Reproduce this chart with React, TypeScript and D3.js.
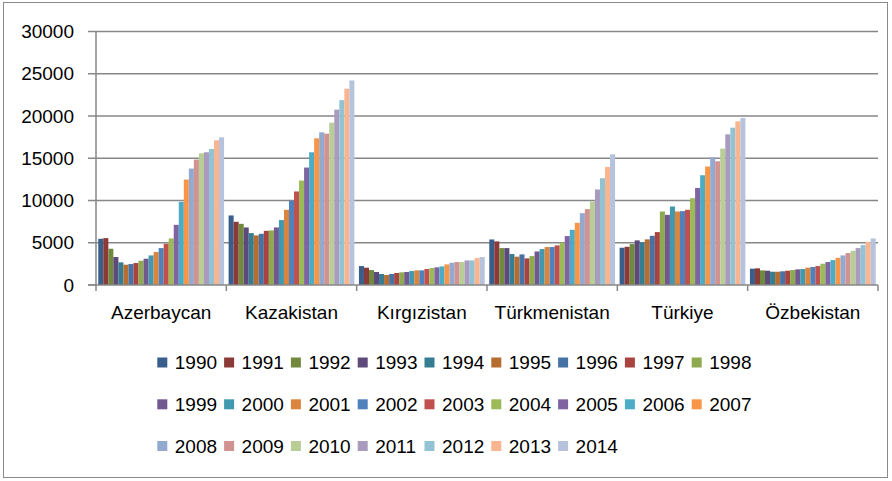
import React, { useRef, useEffect } from "react";
import * as d3 from "d3";

const countries = ["Azerbaycan", "Kazakistan", "Kırgızistan", "Türkmenistan", "Türkiye", "Özbekistan"];
const years = d3.range(1990, 2015).map(String);

// values per country, 1990..2014
const azerbaycan = [5470, 5550, 4290, 3310, 2680, 2400, 2480, 2600, 2870, 3110, 3500, 3900, 4370, 4880, 5510, 7120, 9840, 12480, 13780, 14840, 15590, 15710, 16100, 17120, 17480];
const kazakistan = [8230, 7480, 7240, 6810, 6140, 5870, 6060, 6410, 6460, 6810, 7680, 8900, 9960, 11070, 12360, 13900, 15710, 17360, 18070, 17910, 19210, 20750, 21880, 23230, 24210];
const kirgizistan = [2240, 2050, 1770, 1540, 1300, 1180, 1300, 1420, 1500, 1540, 1650, 1730, 1730, 1890, 2010, 2090, 2200, 2440, 2640, 2720, 2720, 2910, 2910, 3190, 3310];
const turkmenistan = [5390, 5160, 4370, 4370, 3660, 3350, 3620, 3150, 3420, 3970, 4250, 4490, 4490, 4690, 5000, 5790, 6530, 7360, 8500, 8980, 9880, 11300, 12640, 13970, 15470];
const turkiye = [4410, 4520, 4840, 5280, 5040, 5400, 5820, 6260, 8700, 8300, 9290, 8700, 8740, 8900, 10270, 11490, 12990, 14020, 15120, 14640, 16140, 17830, 18620, 19370, 19760];
const ozbekistan = [1930, 1970, 1730, 1690, 1570, 1570, 1620, 1690, 1770, 1850, 1890, 2050, 2130, 2240, 2520, 2720, 2950, 3220, 3500, 3780, 4050, 4370, 4720, 5110, 5510];

const values = [azerbaycan, kazakistan, kirgizistan, turkmenistan, turkiye, ozbekistan];

const yTicks = [0, 5000, 10000, 15000, 20000, 25000, 30000];

const colors = [
    "#3A5E8C", "#8C3A37", "#71893F", "#5E4A7A", "#357D91", "#B66D31",
    "#4672A6", "#A9433F", "#8EAA4E", "#71588F", "#4198AF", "#DB843D",
    "#4F81BD", "#C0504D", "#9BBB59", "#8064A2", "#4BACC6", "#F79646",
    "#93A9CF", "#D19392", "#B9CD96", "#A99BBD", "#92C3D4", "#F9B590",
    "#B7C3DC"
];

const App = () => {
    const ref = useRef<SVGSVGElement>(null);

    useEffect(() => {
        const svg = d3.select(ref.current);
        svg.selectAll("*").remove();

        const width = 892;
        const height = 481;
        const margin = { top: 31.5, right: 14, bottom: 196, left: 96 };
        const font = "'Liberation Sans', Arial, sans-serif";
        const gray = "#878787";

        svg.attr("width", width).attr("height", height).style("background", "#fff");

        // outer frame
        svg.append("rect")
            .attr("x", 3.5).attr("y", 2.5)
            .attr("width", 884).attr("height", 475)
            .attr("fill", "none")
            .attr("stroke", "#8a8a8a")
            .attr("stroke-width", 1);

        const x0 = d3.scaleBand()
            .domain(countries)
            .range([margin.left, width - margin.right])
            .padding(0);

        const x1 = d3.scaleBand()
            .domain(years)
            .range([0, x0.bandwidth()])
            .paddingInner(0)
            .paddingOuter(0.45);

        const y = d3.scaleLinear()
            .domain([0, 30000])
            .range([height - margin.bottom + 0.0, margin.top]);

        const plotRight = width - margin.right;

        // grid lines + y ticks
        const grid = svg.append("g");
        yTicks.forEach(t => {
            grid.append("line")
                .attr("x1", margin.left - 8).attr("x2", t === 0 ? margin.left : plotRight)
                .attr("y1", y(t)).attr("y2", y(t))
                .attr("stroke", gray).attr("stroke-width", 1.3);
            svg.append("text")
                .attr("x", 74).attr("y", y(t))
                .attr("text-anchor", "end")
                .attr("dominant-baseline", "central")
                .style("font-family", font)
                .style("font-size", "19px")
                .attr("fill", "#000")
                .text(t);
        });

        // bars
        countries.forEach((c, ci) => {
            const g = svg.append("g").attr("transform", `translate(${x0(c)},0)`);
            g.selectAll("rect")
                .data(values[ci])
                .enter()
                .append("rect")
                .attr("x", (d, i) => x1(years[i]) as number)
                .attr("width", x1.bandwidth())
                .attr("y", d => y(d))
                .attr("height", d => y(0) - y(d))
                .attr("fill", (d, i) => colors[i]);
        });

        // axes lines
        svg.append("line")
            .attr("x1", margin.left).attr("x2", margin.left)
            .attr("y1", margin.top).attr("y2", y(0))
            .attr("stroke", gray).attr("stroke-width", 1.5);
        svg.append("line")
            .attr("x1", margin.left - 8).attr("x2", plotRight)
            .attr("y1", y(0)).attr("y2", y(0))
            .attr("stroke", gray).attr("stroke-width", 1.5);

        // category boundary ticks
        const bounds = countries.map(c => x0(c) as number).concat([plotRight]);
        bounds.forEach(bx => {
            svg.append("line")
                .attr("x1", bx).attr("x2", bx)
                .attr("y1", y(0)).attr("y2", y(0) + 6)
                .attr("stroke", gray).attr("stroke-width", 1.5);
        });

        // category labels
        countries.forEach(c => {
            svg.append("text")
                .attr("x", (x0(c) as number) + x0.bandwidth() / 2)
                .attr("y", 312)
                .attr("text-anchor", "middle")
                .attr("dominant-baseline", "central")
                .style("font-family", font)
                .style("font-size", "19px")
                .text(c);
        });

        // legend, 9 per row
        const rowY = [362.5, 404.3, 446];
        const legend = svg.append("g");
        years.forEach((yr, i) => {
            const row = Math.floor(i / 9);
            const col = i % 9;
            const lx = 157.3 + col * 66.8;
            const ly = rowY[row];
            legend.append("rect")
                .attr("x", lx).attr("y", ly - 5)
                .attr("width", 10).attr("height", 10)
                .attr("fill", colors[i]);
            legend.append("text")
                .attr("x", lx + 17.5).attr("y", ly)
                .attr("dominant-baseline", "central")
                .style("font-family", font)
                .style("font-size", "19px")
                .text(yr);
        });
    }, []);

    return (
        <svg ref={ref} style={{ position: "absolute", left: 0, top: 0 }}></svg>
    );
};

export default App;
